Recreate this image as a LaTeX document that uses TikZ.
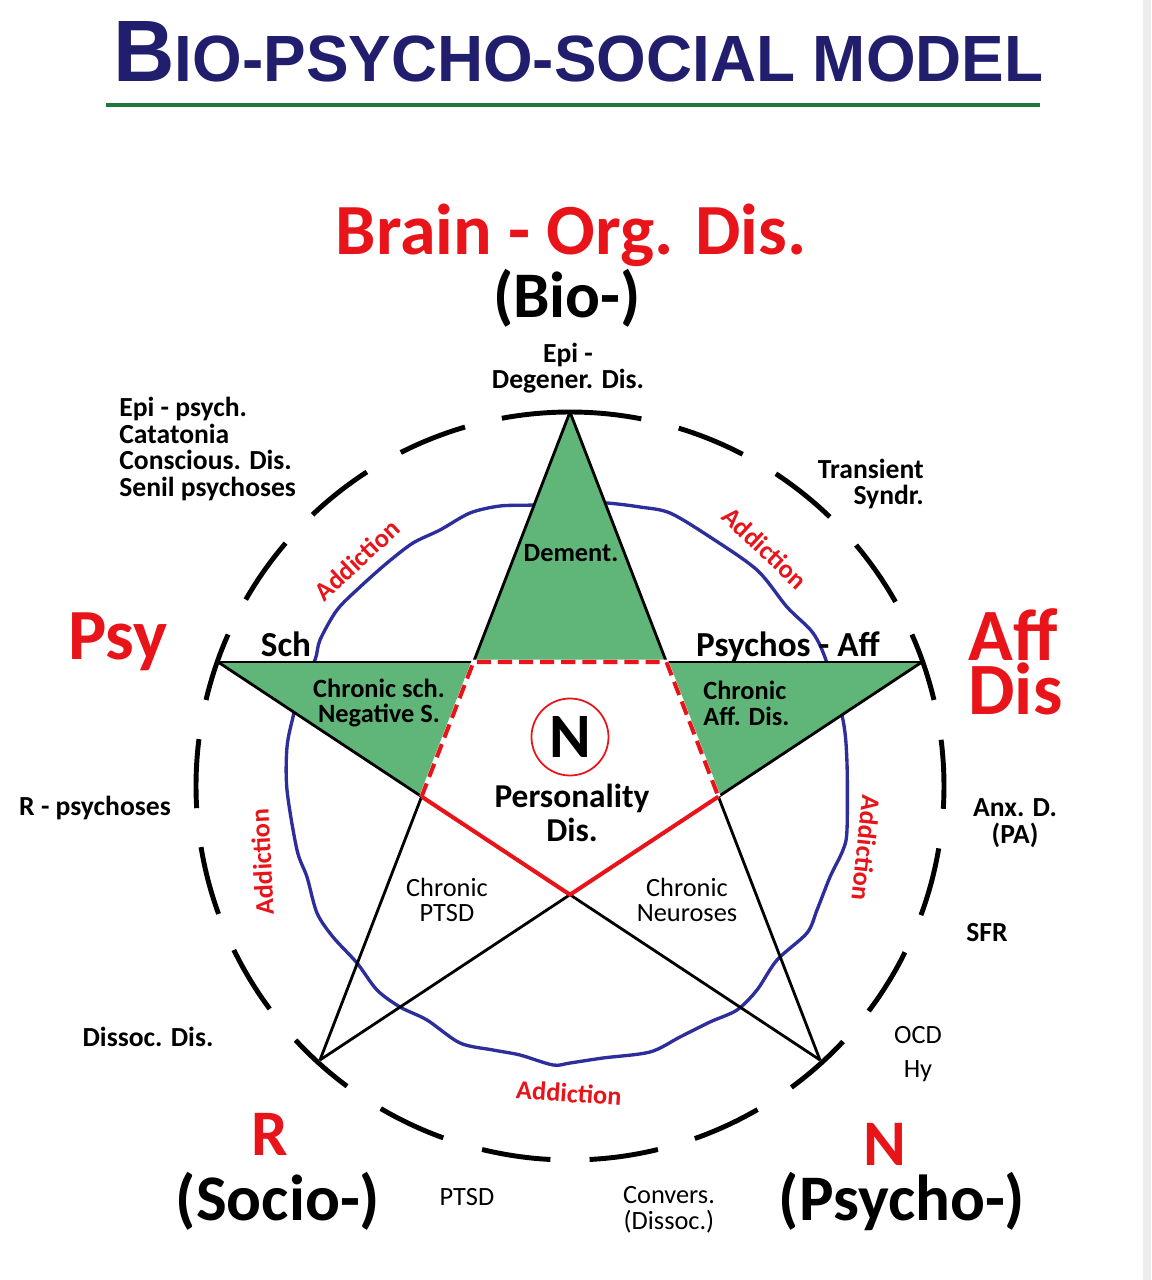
\documentclass[tikz,border=0pt]{standalone}
\usepackage{graphicx}
\usepackage{fontspec}
\setmainfont{Carlito}
\newfontfamily\titlefont{Liberation Sans}
\definecolor{navy}{RGB}{33,30,110}
\definecolor{rulegreen}{RGB}{30,120,60}
\definecolor{pred}{RGB}{232,20,26}
\definecolor{sgreen}{RGB}{96,182,120}
\definecolor{wblue}{RGB}{45,45,155}
\begin{document}
\begin{tikzpicture}[scale=.2,
  lblb/.style={font=\bfseries\fontsize{15}{14.7}\selectfont, align=center, inner sep=0pt},
  lblo/.style={font=\bfseries\fontsize{15.7}{15}\selectfont, align=center, inner sep=0pt},
  lblr/.style={font=\fontsize{15}{14.7}\selectfont, align=center, inner sep=0pt},
  lblm/.style={font=\bfseries\fontsize{20}{20}\selectfont, align=center, inner sep=0pt},
  lblbig/.style={font=\bfseries\fontsize{37}{37}\selectfont, inner sep=0pt},
  addict/.style={font=\bfseries\fontsize{15}{15}\selectfont, text=pred, inner sep=0pt},
  ringdash/.style={line width=2.8pt},
  starline/.style={line width=1.6pt},
  waveline/.style={wblue, line width=1.9pt},
  pentline/.style={pred, line width=2.3pt},
  pentdash/.style={pentline, dash pattern=on 8pt off 4pt}]
\useasboundingbox[fill=white] (-57.0,-49.4) rectangle (58.1,78.6);
\fill[black!7] (57.3,-49.4) rectangle (58.1,78.6);
\node[anchor=base west, inner sep=0pt, text=navy] (title) at (-45.7,70.4) {\resizebox{18.6cm}{1.2cm}{\titlefont\bfseries\fontsize{40}{40}\selectfont B\fontsize{30}{30}\selectfont IO-PSYCHO-SOCIAL MODEL}};
\draw[rulegreen, line width=2.8pt] (-46.4,68.1) -- (47.0,68.1);
\coordinate (v0) at (0,37.4);
\coordinate (v1) at (35.2,12.4);
\coordinate (v2) at (25.0,-27.4);
\coordinate (v3) at (-25.0,-27.4);
\coordinate (v4) at (-35.2,12.4);
\coordinate (p0) at (intersection of v0--v3 and v4--v1);
\coordinate (p1) at (intersection of v0--v2 and v4--v1);
\coordinate (p2) at (intersection of v0--v2 and v1--v3);
\coordinate (p3) at (intersection of v1--v3 and v4--v2);
\coordinate (p4) at (intersection of v0--v3 and v4--v2);
\draw[ringdash] (79:37.4) arc[start angle=79, end angle=100.5, radius=37.4];
\foreach \a in {62.5,46,29.5,13.3,-3.5,-20.2,-37,-53.7,-70.5,-87,-103.6,-120.4,-137.2,206,189.4,172.8,156.1,139.5,122.9,106.3}
  \draw[ringdash] (\a:37.4) arc[start angle=\a, delta angle=10.6, radius=37.4];
\draw[waveline] plot[smooth cycle, tension=0.5] coordinates {(0,28.4) (3.7,28.3) (7.0,27.9) (10.0,27.3) (14.0,24.9) (18.7,21.6) (21.7,17.9) (24.3,15.3) (25.7,12.3) (27.3,6.6) (27.7,2.3) (27.7,-4.4) (27.3,-6.4) (26.0,-9.1) (24.7,-12.4) (23.7,-14.7) (20.7,-17.4) (18.7,-20.4) (16.7,-22.4) (14.0,-23.6) (11.0,-25.1) (8.0,-26.6) (3.3,-27.2) (0,-27.7) (-1.7,-27.9) (-5.0,-26.9) (-7.7,-26.4) (-11.0,-25.7) (-14.3,-23.4) (-17.0,-22.1) (-19.3,-20.4) (-21.3,-17.7) (-23.7,-15.1) (-25.3,-12.7) (-26.3,-9.1) (-27.3,-6.4) (-28.3,-0.4) (-28.3,3.9) (-27.7,6.9) (-27.0,9.6) (-25.5,12.6) (-25.0,14.6) (-23.3,17.6) (-21.0,19.9) (-18.3,22.3) (-15.7,24.3) (-13.0,25.6) (-10.0,27.3) (-7.0,28.0) (-3.7,28.1)};
\fill[sgreen] (v0) -- (p0) -- (p1) -- cycle;
\fill[sgreen] (v4) -- (p0) -- (p4) -- cycle;
\fill[sgreen] (v1) -- (p1) -- (p2) -- cycle;
\draw[starline] (v0) -- (v3);
\draw[starline] (v0) -- (v2);
\draw[starline] (v4) -- (v1);
\draw[starline] (v4) -- (v2);
\draw[starline] (v1) -- (v3);
\fill[white] (p0) -- (p1) -- (p2) -- (p3) -- (p4) -- cycle;
\draw[white, line width=2.6pt] (p4) -- (p0) -- (p1) -- (p2);
\draw[pentdash] (p4) -- (p0) -- (p1) -- (p2);
\draw[pentline] (p2) -- (p3) -- (p4);
\node[lblbig, text=pred, anchor=base, font=\bfseries\fontsize{41}{41}\selectfont] (brain) at (0.1,53.1) {Brain - Org. Dis.};
\node[lblbig, anchor=base] (bio) at (-0.3,46.8) {(Bio-)};
\node[lblo] (epi) at (-0.2,41.8) {Epi -\\Degener. Dis.};
\node[lblo, anchor=west, align=left] (epipsych) at (-45.1,33.7) {Epi - psych.\\Catatonia\\Conscious. Dis.\\Senil psychoses};
\node[lblo, anchor=east, align=right] (trans) at (35.4,30.2) {Transient\\Syndr.};
\node[lblbig, text=pred, anchor=base, font=\bfseries\fontsize{41}{41}\selectfont] (psy) at (-45.2,12.6) {Psy};
\node[lblbig, text=pred, anchor=base west, align=left, font=\bfseries\fontsize{42}{31.2}\selectfont] (aff) at (39.8,7.1) {Aff\\Dis};
\node[lblm, anchor=base] (sch) at (-28.4,12.9) {Sch};
\node[lblm, anchor=base] (psyaff) at (21.8,12.9) {Psychos - Aff};
\node[lblb] (dement) at (0.1,23.3) {Dement.};
\node[lblb] (chsch) at (-19.1,8.3) {Chronic sch.\\Negative S.};
\node[lblb, anchor=west, align=left] (chaff) at (13.3,8.3) {Chronic\\Aff. Dis.};
\node[circle, draw=pred, line width=1pt, minimum size=1.54cm, inner sep=0pt, font=\bfseries\fontsize{36}{36}\selectfont] (nc) at (0,4.9) {N};
\node[lblm, font=\bfseries\fontsize{19}{19.8}\selectfont] (pers) at (0.2,-2.7) {Personality\\Dis.};
\node[lblr] (chptsd) at (-12.3,-11.4) {Chronic\\PTSD};
\node[lblr] (chneur) at (11.7,-11.4) {Chronic\\Neuroses};
\node[lblo] (rpsy) at (-47.5,-2.2) {R - psychoses};
\node[lblo] (anx) at (44.5,-3.7) {Anx. D.\\(PA)};
\node[lblo] (sfr) at (41.7,-14.7) {SFR};
\node[lblo] (dissoc) at (-42.2,-25.1) {Dissoc. Dis.};
\node[lblr, font=\fontsize{15}{19}\selectfont] (ocd) at (34.8,-26.8) {OCD\\Hy};
\node[lblbig, text=pred, anchor=base] (rlab) at (-30,-36.9) {R};
\node[lblbig, anchor=base] (socio) at (-29.2,-43.4) {(Socio-)};
\node[lblbig, text=pred, anchor=base] (nlab) at (31.5,-37.9) {N};
\node[lblbig, anchor=base] (psycho) at (33.2,-43.4) {(Psycho-)};
\node[lblr] (ptsd) at (-10.3,-41.1) {PTSD};
\node[lblr] (convers) at (9.9,-42.4) {Convers.\\(Dissoc.)};
\node[addict, rotate=43] (add1) at (-21.3,22.6) {Addiction};
\node[addict, rotate=-43] (add2) at (19.5,23.8) {Addiction};
\node[addict, rotate=93] (add3) at (-30.8,-7.6) {Addiction};
\node[addict, rotate=-96] (add4) at (29.6,-6.2) {Addiction};
\node[addict, rotate=-4] (add5) at (-0.1,-30.7) {Addiction};
\end{tikzpicture}
\end{document}
